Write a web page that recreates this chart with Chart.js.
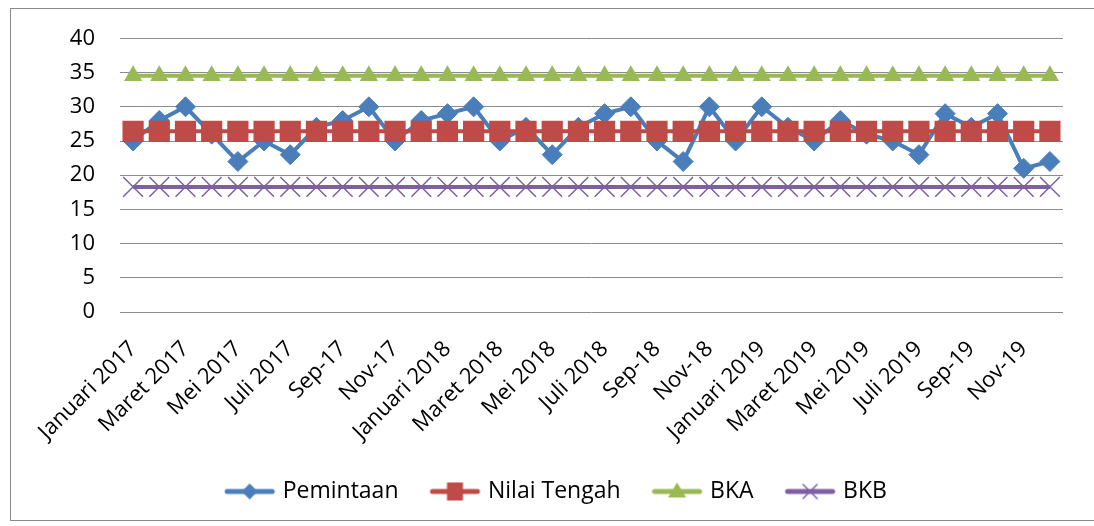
<!DOCTYPE html>
<html>
<head>
<meta charset="utf-8">
<script src="https://cdn.jsdelivr.net/npm/chart.js@4"></script>
<style>
  body { margin: 0; background: #fff; overflow: hidden; }
  #box { position: absolute; left: 10px; top: 8px; width: 1090px; height: 511px; border: 1px solid #8a8a8a; }
  canvas { display: block; }
</style>
</head>
<body>
<div id="box"><canvas id="c" width="1083" height="511"></canvas></div>
<script>
const labels = [
  'Januari 2017', 'Februari 2017', 'Maret 2017', 'April 2017', 'Mei 2017', 'Juni 2017',
  'Juli 2017', 'Agustus 2017', 'Sep-17', 'Okt-17', 'Nov-17', 'Des-17',
  'Januari 2018', 'Februari 2018', 'Maret 2018', 'April 2018', 'Mei 2018', 'Juni 2018',
  'Juli 2018', 'Agustus 2018', 'Sep-18', 'Okt-18', 'Nov-18', 'Des-18',
  'Januari 2019', 'Februari 2019', 'Maret 2019', 'April 2019', 'Mei 2019', 'Juni 2019',
  'Juli 2019', 'Agustus 2019', 'Sep-19', 'Okt-19', 'Nov-19', 'Des-19'
]

const pemintaan = [
  25, 28, 30, 26, 22, 25, 23, 27, 28, 30, 25, 28,
  29, 30, 25, 27, 23, 27, 29, 30, 25, 22, 30, 25,
  30, 27, 25, 28, 26, 25, 23, 29, 27, 29, 21, 22
]

const nilaiTengah = [
  26.42, 26.42, 26.42, 26.42, 26.42, 26.42, 26.42, 26.42, 26.42, 26.42, 26.42, 26.42,
  26.42, 26.42, 26.42, 26.42, 26.42, 26.42, 26.42, 26.42, 26.42, 26.42, 26.42, 26.42,
  26.42, 26.42, 26.42, 26.42, 26.42, 26.42, 26.42, 26.42, 26.42, 26.42, 26.42, 26.42
]

const bka = [
  34.55, 34.55, 34.55, 34.55, 34.55, 34.55, 34.55, 34.55, 34.55, 34.55, 34.55, 34.55,
  34.55, 34.55, 34.55, 34.55, 34.55, 34.55, 34.55, 34.55, 34.55, 34.55, 34.55, 34.55,
  34.55, 34.55, 34.55, 34.55, 34.55, 34.55, 34.55, 34.55, 34.55, 34.55, 34.55, 34.55
]

const bkb = [
  18.29, 18.29, 18.29, 18.29, 18.29, 18.29, 18.29, 18.29, 18.29, 18.29, 18.29, 18.29,
  18.29, 18.29, 18.29, 18.29, 18.29, 18.29, 18.29, 18.29, 18.29, 18.29, 18.29, 18.29,
  18.29, 18.29, 18.29, 18.29, 18.29, 18.29, 18.29, 18.29, 18.29, 18.29, 18.29, 18.29
]

const yTicks = [0, 5, 10, 15, 20, 25, 30, 35, 40]

const blue = '#4A7EBB'
const red = '#BE4B48'
const green = '#98B954'
const purple = '#7D60A0'

// little line + marker picture for the legend
// the picture is wider than the legend box so the line can sit close to the text
function legendIcon(color, shape) {
  const c = document.createElement('canvas')
  c.width = 90
  c.height = 24
  const ctx = c.getContext('2d')
  ctx.strokeStyle = color
  ctx.fillStyle = color
  ctx.lineWidth = 5
  ctx.lineCap = 'round'
  ctx.beginPath()
  ctx.moveTo(36, 12)
  ctx.lineTo(81, 12)
  ctx.stroke()
  const cx = 58.5, cy = 12
  ctx.beginPath()
  if (shape == 'diamond') {
    ctx.moveTo(cx, cy - 8); ctx.lineTo(cx + 8, cy); ctx.lineTo(cx, cy + 8); ctx.lineTo(cx - 8, cy)
    ctx.closePath(); ctx.fill()
  } else if (shape == 'square') {
    ctx.rect(cx - 8, cy - 9, 16, 18); ctx.fill()
  } else if (shape == 'triangle') {
    ctx.moveTo(cx, cy - 9); ctx.lineTo(cx + 9, cy + 6); ctx.lineTo(cx - 9, cy + 6)
    ctx.closePath(); ctx.fill()
  } else {
    ctx.lineWidth = 1.5
    ctx.moveTo(cx - 7, cy - 7); ctx.lineTo(cx + 7, cy + 7)
    ctx.moveTo(cx + 7, cy - 7); ctx.lineTo(cx - 7, cy + 7)
    ctx.stroke()
  }
  return c
}

const data = {
  labels: labels,
  datasets: [
    {
      label: 'Pemintaan', data: pemintaan,
      borderColor: blue, backgroundColor: blue, borderWidth: 4,
      pointStyle: 'rectRot', pointRadius: 10, pointBorderWidth: 1,
      pointBackgroundColor: blue, pointBorderColor: blue, order: 4
    },
    {
      label: 'Nilai Tengah', data: nilaiTengah,
      borderColor: red, backgroundColor: red, borderWidth: 4,
      pointStyle: 'rect', pointRadius: 15, pointBorderWidth: 0,
      pointBackgroundColor: red, order: 3
    },
    {
      label: 'BKA', data: bka,
      borderColor: green, backgroundColor: green, borderWidth: 4,
      pointStyle: 'triangle', pointRadius: 10.5, pointBorderWidth: 0,
      pointBackgroundColor: green, order: 2
    },
    {
      label: 'BKB', data: bkb,
      borderColor: purple, backgroundColor: purple, borderWidth: 4,
      pointStyle: 'crossRot', pointRadius: 14, pointBorderWidth: 1.5,
      pointBorderColor: purple, order: 1
    }
  ]
}

const icons = [legendIcon(blue, 'diamond'), legendIcon(red, 'square'), legendIcon(green, 'triangle'), legendIcon(purple, 'cross')]

const config = {
  type: 'line',
  data: data,
  options: {
    responsive: false,
    animation: false,
    layout: { padding: { left: 14, right: 31, top: 24.5, bottom: 7 } },
    elements: { line: { tension: 0 } },
    plugins: {
      tooltip: { enabled: false },
      legend: {
        position: 'bottom',
        labels: {
          usePointStyle: true,
          pointStyleWidth: 70,
          boxHeight: 23,
          padding: 8,
          color: '#000',
          font: { family: 'Open Sans', size: 23 },
          generateLabels: chart => chart.data.datasets.map((ds, i) => ({
            text: ds.label,
            pointStyle: icons[i],
            fillStyle: ds.borderColor,
            strokeStyle: ds.borderColor,
            lineWidth: 0,
            hidden: false,
            datasetIndex: i,
            fontColor: '#000'
          }))
        }
      }
    },
    scales: {
      x: {
        offset: true,
        grid: { display: false, drawTicks: false },
        border: { display: false },
        afterFit: scale => { scale.height = 160 },
        ticks: {
          autoSkip: false,
          maxRotation: 45,
          minRotation: 45,
          padding: 24,
          color: '#000',
          font: { family: 'Open Sans', size: 22 },
          callback: function (value, index) { return index % 2 == 0 ? this.getLabelForValue(value) : '' }
        }
      },
      y: {
        min: 0,
        max: 40,
        afterBuildTicks: scale => { scale.ticks = yTicks.map(v => ({ value: v })) },
        afterFit: scale => { scale.width = 95 },
        grid: { color: '#8c8c8c', lineWidth: 1, drawTicks: false },
        border: { display: false },
        ticks: {
          padding: 25,
          color: '#000',
          font: { family: 'Open Sans', size: 22, lineHeight: 0.4 }
        }
      }
    }
  }
}

function chart() {
  const myChart = new Chart(document.getElementById('c'), config)
}
chart()
</script>
</body>
</html>
